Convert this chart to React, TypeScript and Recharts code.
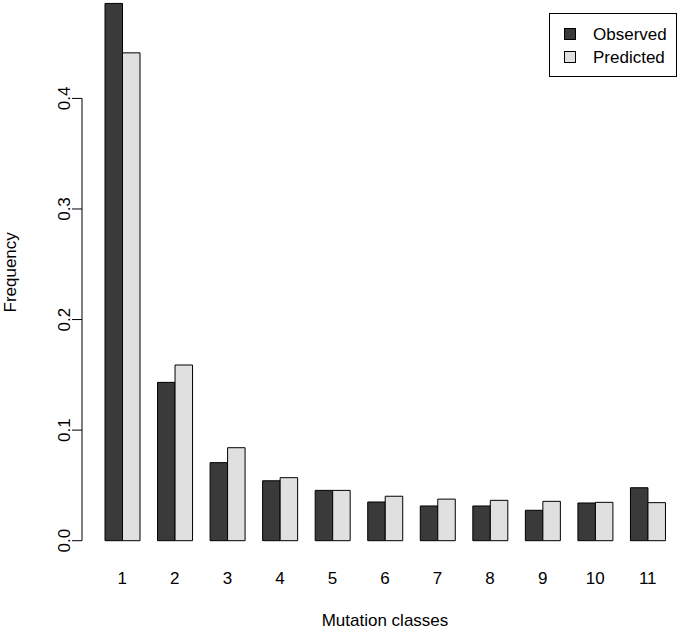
import { BarChart, Bar, XAxis, YAxis, Legend, Label, ReferenceLine } from "recharts";

const classes = ["1", "2", "3", "4", "5", "6", "7", "8", "9", "10", "11"];
const observed = [0.4859, 0.1432, 0.0706, 0.0542, 0.0455, 0.035, 0.0314, 0.0314, 0.0275, 0.0341, 0.0479];
const predicted = [0.4412, 0.1589, 0.0841, 0.057, 0.0455, 0.0402, 0.0376, 0.0365, 0.0356, 0.0347, 0.0344];
const yTicks = [0, 0.1, 0.2, 0.3, 0.4];

const data = classes.map((c, i) => ({
  cls: c,
  Observed: observed[i],
  Predicted: predicted[i],
}));

const FONT = '"Liberation Sans", Arial, Helvetica, sans-serif';

function YTick(props: any) {
  const { x, y, payload } = props;
  return (
    <g>
      <line x1={x + 2} y1={y} x2={x + 12} y2={y} stroke="#000" strokeWidth={1} />
      <text
        x={x}
        y={y}
        transform={`rotate(-90, ${x}, ${y})`}
        textAnchor="middle"
        fontSize={17}
        fill="#000"
        fontFamily={FONT}
      >
        {Number(payload.value).toFixed(1)}
      </text>
    </g>
  );
}

function FrequencyLabel(props: any) {
  const vb = props.viewBox;
  const x = vb.x + 16;
  const y = vb.y + vb.height / 2 + 2;
  return (
    <text x={x} y={y} transform={`rotate(-90, ${x}, ${y})`} textAnchor="middle" fontSize={17} fill="#000" fontFamily={FONT}>
      Frequency
    </text>
  );
}

function XTitle(props: any) {
  const vb = props.viewBox;
  return (
    <text x={vb.x + vb.width / 2} y={vb.y + 85} textAnchor="middle" fontSize={17} fill="#000" fontFamily={FONT}>
      Mutation classes
    </text>
  );
}

function LegendBox(props: any) {
  const items = props.payload || [];
  return (
    <div
      style={{
        width: 128,
        height: 64,
        boxSizing: "border-box",
        border: "1px solid #000",
        background: "#fff",
        paddingTop: 8.5,
        fontFamily: FONT,
        fontSize: 17,
        color: "#000",
      }}
    >
      {items.map((it: any) => (
        <div key={it.value} style={{ height: 23, lineHeight: "23px", display: "flex", alignItems: "center" }}>
          <span
            style={{
              display: "inline-block",
              width: 12,
              height: 12,
              boxSizing: "border-box",
              border: "1px solid #000",
              background: it.color,
              marginLeft: 14,
              marginRight: 17,
            }}
          />
          <span>{it.value}</span>
        </div>
      ))}
    </div>
  );
}

export default function App() {
  return (
    <div
      style={{
        position: "absolute",
        left: 0,
        top: 0,
        width: 680,
        height: 629,
        overflow: "hidden",
        background: "#fff",
        fontFamily: FONT,
      }}
    >
      <BarChart
        width={700}
        height={629}
        data={data}
        margin={{ top: 0, right: 12, bottom: 0, left: 0 }}
        barGap={0}
      >
        <XAxis
          dataKey="cls"
          height={88.3}
          padding={{ left: 14, right: 14 }}
          axisLine={false}
          tickLine={false}
          tickSize={0}
          tickMargin={31}
          tick={{ fill: "#000", fontSize: 17, fontFamily: FONT }}
          interval={0}
        >
          <Label content={XTitle} />
        </XAxis>
        <XAxis xAxisId="frame" type="number" domain={[0, 1]} hide />
        <YAxis
          width={82}
          type="number"
          domain={[0, 0.489]}
          ticks={yTicks}
          axisLine={false}
          tickLine={false}
          tickSize={10}
          tickMargin={2}
          tick={<YTick />}
          interval={0}
        >
          <Label content={FrequencyLabel} />
        </YAxis>
        <ReferenceLine
          xAxisId="frame"
          segment={[
            { x: 0, y: 0 },
            { x: 0, y: 0.4 },
          ]}
          stroke="#000"
          strokeWidth={1}
          ifOverflow="visible"
        />
        <Legend
          layout="horizontal"
          verticalAlign="middle"
          align="center"
          content={<LegendBox />}
          wrapperStyle={{ position: "absolute", left: 549, top: 13, width: 128, height: 64 }}
        />
        <Bar dataKey="Observed" fill="#3a3a3a" stroke="#000" strokeWidth={1} barSize={17.5} isAnimationActive={false} />
        <Bar dataKey="Predicted" fill="#e0e0e0" stroke="#000" strokeWidth={1} barSize={17.5} isAnimationActive={false} />
      </BarChart>
    </div>
  );
}
